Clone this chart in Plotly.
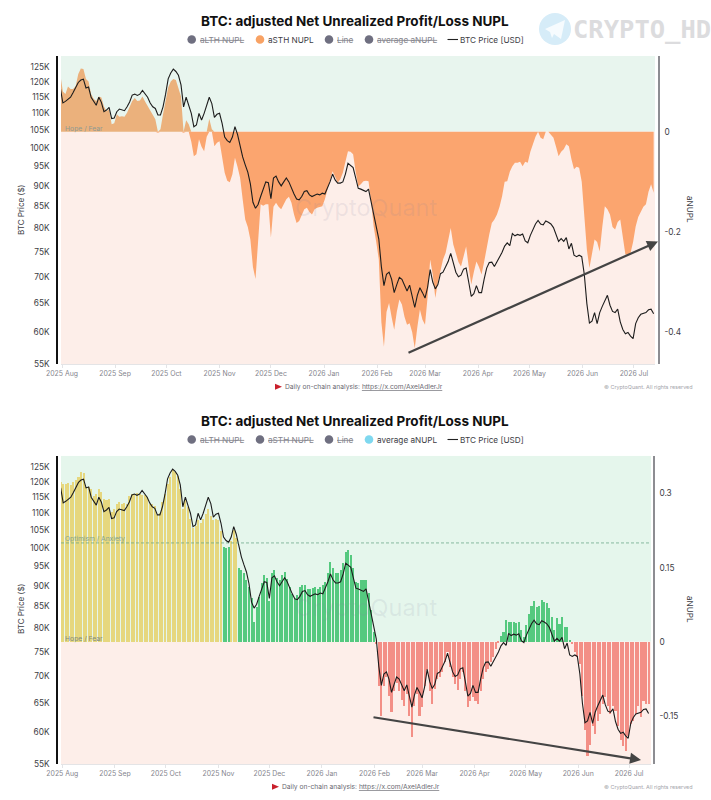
import pandas as pd
import plotly.graph_objects as go

WIDTH, HEIGHT = 711, 800

# One reading every 36 hours across the charted window.
dates = list(pd.date_range("2025-07-31", periods=232, freq="36h"))
month_ticks = list(pd.date_range("2025-08-01", "2026-07-01", freq="MS"))

btc_price_k = [
    118, 113.2, 113.7, 114.5, 115, 116.5, 118, 119.8, 120.6, 120.9, 118, 118.3, 115, 113.5, 112.5, 115, 113.4, 110.5, 111, 111.8,
    108.4, 108.6, 110.5, 111.3, 111, 110.8, 112, 113.5, 115.7, 116, 115.6, 116, 117.2, 116, 115, 113.2, 112, 111.5, 109.5, 109.5,
    112, 116, 121, 123, 124.3, 123.5, 122.2, 119, 112, 115, 112.4, 110, 106, 106.5, 110, 108, 110, 112.5, 115, 113,
    108.8, 109.7, 110, 107, 103, 102, 101.5, 103, 106, 103.8, 100.5, 97.5, 95.4, 93.5, 90.5, 86, 84.6, 85.5, 87.4, 89,
    91, 90.8, 86.9, 92, 92.5, 91, 90, 91, 92, 91, 89.4, 88, 86.8, 86.6, 87.4, 88.6, 88.8, 87.8, 87.4, 87.7,
    88, 87.8, 88.2, 88, 89.4, 91, 93, 91.5, 90.7, 90.7, 91, 93, 95.8, 95.3, 94.7, 92, 89.4, 89.2, 88.8, 88.6,
    89.2, 86, 83, 80.5, 77.7, 72, 68.3, 70.5, 70.9, 69.5, 67, 68.5, 69.9, 69.5, 68.4, 67.3, 68.4, 66, 64.3, 66.5,
    67.9, 67, 66, 68, 71.4, 69, 67.7, 68.5, 70.6, 70.9, 72, 73, 74.7, 72.5, 70.9, 70, 70.3, 71.5, 71.7, 69,
    66.3, 66.8, 68.3, 67, 67, 69.5, 71.7, 72.8, 72.9, 72, 72.9, 74, 74.9, 76.2, 76.9, 76.3, 78.9, 78.4, 78.7, 78.5,
    78.8, 77.3, 76.9, 78.5, 79.7, 81, 81.8, 81, 80.8, 81.7, 81.4, 81, 80.2, 78.5, 77.2, 77.8, 77.2, 78, 75.6, 76.8,
    74.3, 74, 74.3, 74, 70.5, 65, 61.6, 61.9, 63.4, 61.5, 63.4, 64.5, 65.4, 66.5, 64.7, 63.6, 63.4, 64, 61.8, 60.5,
    59.8, 60, 59.4, 59, 61.5, 62.5, 63.1, 63.3, 63.4, 63.9, 64, 63.2,
]

asth_nupl = [
    .115, .08, .075, .09, .085, .085, .091, .115, .126, .125, .105, .10, .075, .065, .061, .07, .068, .05, .041, .045,
    .015, .017, .035, .03, .031, .03, .038, .05, .061, .067, .061, .062, .07, .06, .051, .04, .031, .025, -.002, .005,
    .035, .06, .088, .1, .105, .103, .088, .07, -.002, .023, .015, -.02, -.049, -.045, -.015, -.03, -.039, -.01, .026, .005,
    -.029, -.022, -.019, -.05, -.082, -.098, -.101, -.085, -.052, -.07, -.092, -.135, -.175, -.19, -.215, -.27, -.294, -.22, -.145, -.148,
    -.145, -.145, -.211, -.15, -.142, -.15, -.155, -.145, -.135, -.13, -.142, -.165, -.182, -.178, -.165, -.155, -.152, -.16, -.165, -.155,
    -.152, -.15, -.149, -.135, -.115, -.095, -.079, -.09, -.102, -.095, -.082, -.06, -.039, -.04, -.045, -.08, -.109, -.105, -.099, -.098,
    -.099, -.14, -.189, -.22, -.255, -.38, -.429, -.36, -.342, -.37, -.395, -.36, -.335, -.345, -.369, -.385, -.382, -.4, -.432, -.39,
    -.355, -.375, -.385, -.33, -.255, -.285, -.332, -.30, -.275, -.255, -.242, -.22, -.192, -.225, -.245, -.26, -.269, -.25, -.229, -.27,
    -.305, -.28, -.259, -.27, -.285, -.26, -.229, -.205, -.182, -.175, -.165, -.15, -.129, -.10, -.099, -.08, -.069, -.062, -.062, -.06,
    -.069, -.06, -.062, -.04, -.025, -.01, .001, -.012, -.015, .001, .001, -.006, -.012, -.03, -.049, -.04, -.035, -.025, -.029, -.055,
    -.075, -.07, -.072, -.10, -.162, -.235, -.272, -.24, -.215, -.22, -.239, -.19, -.149, -.155, -.165, -.19, -.195, -.18, -.175, -.21,
    -.245, -.245, -.242, -.22, -.189, -.17, -.159, -.15, -.145, -.12, -.105, -.122,
]

average_anupl = [
    .324, .32, .321, .322, .318, .325, .328, .335, .345, .343, .314, .313, .309, .295, .30, .31, .304, .29, .287, .29,
    .264, .27, .28, .284, .279, .282, .28, .295, .299, .30, .302, .30, .297, .298, .294, .28, .279, .275, .257, .262,
    .284, .30, .321, .335, .348, .345, .336, .31, .27, .288, .274, .25, .23, .235, .247, .24, .25, .26, .27, .255,
    .247, .25, .247, .225, .193, .19, .193, .205, .226, .21, .149, .145, .139, .125, .111, .09, .04, .07, .091, .12,
    .135, .13, .084, .14, .145, .13, .125, .135, .142, .128, .111, .098, .088, .095, .111, .115, .115, .108, .108, .11,
    .111, .108, .111, .115, .122, .14, .162, .15, .139, .14, .145, .16, .182, .186, .176, .15, .122, .12, .125, .126,
    .125, .10, .064, .02, -.005, -.09, -.149, -.09, -.071, -.11, -.142, -.10, -.084, -.10, -.118, -.13, -.105, -.15, -.193, -.13,
    -.105, -.15, -.132, -.09, -.057, -.10, -.125, -.095, -.074, -.07, -.061, -.04, -.02, -.05, -.071, -.085, -.098, -.075, -.061, -.10,
    -.132, -.12, -.111, -.12, -.125, -.10, -.074, -.06, -.054, -.04, -.03, -.015, -.003, .012, .02, .045, .041, .04, .041, .038,
    .041, .025, .01, .035, .057, .072, .084, .07, .072, .085, .081, .078, .068, .05, .024, .048, .037, .05, .03, .03,
    .005, -.005, -.02, -.03, -.044, -.11, -.179, -.23, -.209, -.17, -.186, -.16, -.145, -.125, -.111, -.13, -.145, -.13, -.139, -.17,
    -.199, -.21, -.22, -.19, -.166, -.16, -.145, -.13, -.152, -.12, -.125, -.125,
]

assert len(dates) == len(btc_price_k) == len(asth_nupl) == len(average_anupl)

price_ticks_k = [55, 60, 65, 70, 75, 80, 85, 90, 95, 100, 105, 110, 115, 120, 125]
price_tick_text = [f"{v}K" for v in price_ticks_k]
OPTIMISM_LEVEL = 0.2

FONT = "Inter, 'Liberation Sans', sans-serif"
INK = "#3d3d45"
MUTED = "#85858d"
GREEN_TOP = "#e8f5ee"
GREEN_BOTTOM = "#e5f6ec"
PINK = "#fdeee9"

# Pixel box of the upper plot area; free-standing labels are placed relative to it.
BOX_L, BOX_R, BOX_T, BOX_B = 61, 655, 56, 364


def px(x):
    return x / WIDTH


def py(y):
    return 1 - y / HEIGHT


def dom_x(x):
    return (x - BOX_L) / (BOX_R - BOX_L)


def dom_y(y):
    return (BOX_B - y) / (BOX_B - BOX_T)


def bar_colour(v):
    if v >= OPTIMISM_LEVEL:
        return "#e6d77e"
    if v >= 0:
        return "#55c97f"
    return "#f38f86"


fig = go.Figure()

# Upper panel: short-term holder NUPL as an area either side of zero.
fig.add_trace(go.Scatter(
    x=dates, y=[max(v, 0) for v in asth_nupl], xaxis="x", yaxis="y2",
    mode="lines", line=dict(width=0, shape="linear"), fill="tozeroy",
    fillcolor="#ebb17c", hoverinfo="skip", showlegend=False,
))
fig.add_trace(go.Scatter(
    x=dates, y=[min(v, 0) for v in asth_nupl], xaxis="x", yaxis="y2",
    mode="lines", line=dict(width=0), fill="tozeroy",
    fillcolor="#fba56f", hoverinfo="skip", showlegend=False,
))
fig.add_trace(go.Scatter(
    x=dates, y=btc_price_k, xaxis="x", yaxis="y", mode="lines",
    line=dict(color="#1c1c1c", width=1.1), showlegend=False,
))

# Lower panel: average NUPL bars coloured by sentiment zone.
fig.add_trace(go.Bar(
    x=dates, y=average_anupl, xaxis="x2", yaxis="y4",
    marker=dict(color=[bar_colour(v) for v in average_anupl], line=dict(width=0)),
    width=1.22 * 86400000, showlegend=False,
))
fig.add_trace(go.Scatter(
    x=dates, y=btc_price_k, xaxis="x2", yaxis="y3", mode="lines",
    line=dict(color="#1c1c1c", width=1.1), showlegend=False,
))

date_axis = dict(
    type="date", tickvals=month_ticks, tickformat="%Y %b", showgrid=False,
    zeroline=False, showline=True, linecolor="#e4e4e6", linewidth=1, automargin=False,
    ticks="outside", ticklen=3, tickcolor="#e4e4e6",
    tickfont=dict(family=FONT, size=6.9, color=MUTED),
)
price_axis = dict(
    type="log", tickvals=price_ticks_k, ticktext=price_tick_text, showgrid=False,
    zeroline=False, showline=True, linecolor="#111111", linewidth=1.5, automargin=False,
    ticks="outside", ticklen=5, tickcolor="rgba(0,0,0,0)", anchor="free",
    position=px(57), side="left", tickfont=dict(family=FONT, size=8.3, color=INK),
)
nupl_axis = dict(
    showgrid=False, zeroline=False, showline=True, linecolor="#8d8d92", automargin=False,
    linewidth=1.5, side="right", anchor="free", ticks="outside", ticklen=3,
    tickcolor="rgba(0,0,0,0)", tickfont=dict(family=FONT, size=8.3, color=INK),
)

fig.update_layout(
    width=WIDTH, height=HEIGHT, autosize=False, paper_bgcolor="white",
    plot_bgcolor="rgba(0,0,0,0)", margin=dict(l=0, r=0, t=0, b=0), showlegend=False,
    bargap=0,
    xaxis=dict(date_axis, domain=[px(BOX_L), px(BOX_R)], anchor="y",
               range=["2025-07-31 10:00", "2026-07-13 07:00"]),
    yaxis=dict(price_axis, domain=[py(BOX_B), py(BOX_T)], range=[1.74036, 2.11025],
               overlaying="y2"),
    yaxis2=dict(nupl_axis, domain=[py(BOX_B), py(BOX_T)], range=[-0.4635, 0.151],
                position=px(659), tickvals=[0, -0.2, -0.4], ticktext=["0", "-0.2", "-0.4"]),
    xaxis2=dict(date_axis, domain=[px(61), px(651)], anchor="y3",
                range=["2025-07-31 05:00", "2026-07-13 22:00"]),
    yaxis3=dict(price_axis, domain=[py(764), py(455.7)], range=[1.73991, 2.1106],
                overlaying="y4"),
    yaxis4=dict(nupl_axis, domain=[py(764), py(455.7)], range=[-0.2478, 0.3767],
                position=px(654), tickvals=[0.3, 0.15, 0, -0.15],
                ticktext=["0.3", "0.15", "0", "-0.15"]),
)

shapes = [
    dict(type="rect", xref="x domain", x0=0, x1=1, yref="y2", y0=0, y1=0.151,
         fillcolor=GREEN_TOP, line_width=0, layer="below"),
    dict(type="rect", xref="x domain", x0=0, x1=1, yref="y2", y0=-0.4635, y1=0,
         fillcolor=PINK, line_width=0, layer="below"),
    dict(type="rect", xref="x2 domain", x0=0, x1=1, yref="y4", y0=0, y1=0.3767,
         fillcolor=GREEN_BOTTOM, line_width=0, layer="below"),
    dict(type="rect", xref="x2 domain", x0=0, x1=1, yref="y4", y0=-0.2478, y1=0,
         fillcolor=PINK, line_width=0, layer="below"),
    dict(type="line", xref="x2 domain", x0=0, x1=1, yref="y4", y0=OPTIMISM_LEVEL,
         y1=OPTIMISM_LEVEL, line=dict(color="#5f9f7f", width=0.7, dash="3px,2px")),
    # Telegram badge
    dict(type="circle", xref="paper", yref="paper", x0=px(539), x1=px(571),
         y0=py(45), y1=py(13), fillcolor="#d6ecf8", line_width=0),
    dict(type="path", xref="paper", yref="paper", line_width=0, fillcolor="#f6fbfe",
         path=f"M {px(545)} {py(29)} L {px(565)} {py(20)} L {px(561)} {py(39)} "
              f"L {px(554)} {py(34)} L {px(552)} {py(38)} L {px(550)} {py(32)} Z"),
]

annotations = []


def label(x, y, text, size, color=INK, anchor="left", **extra):
    # Annotation boxes carry about 2px of padding; take it back so x is the ink edge.
    nudge = {"left": -2, "right": 2, "center": 0}[anchor]
    annotations.append(dict(
        xref="x domain", yref="y domain", x=dom_x(x + nudge), y=dom_y(y), text=text,
        showarrow=False, xanchor=anchor, yanchor="middle",
        font=dict(family=FONT, size=size, color=color), **extra,
    ))


def legend(y_centre, active):
    entries = [
        (191.7, 200, "aLTH NUPL", "#6f6f80"),
        (260, 267.7, "aSTH NUPL", "#f8a264"),
        (329, 337, "Line", "#6f6f80"),
        (369, 376.7, "average aNUPL", "#7fd8ef"),
    ]
    for cx, tx, name, colour in entries:
        on = name == active
        shapes.append(dict(
            type="circle", xref="paper", yref="paper", x0=px(cx - 4.3), x1=px(cx + 4.3),
            y0=py(y_centre + 4.3), y1=py(y_centre - 4.3),
            fillcolor=colour if on else "#6f6f80", line_width=0,
        ))
        label(tx, y_centre, name if on else f"<s>{name}</s>", 8.2, INK if on else MUTED)
    shapes.append(dict(type="line", xref="paper", yref="paper", x0=px(447.5), x1=px(458),
                       y0=py(y_centre), y1=py(y_centre), line=dict(color="#222222", width=1.1)))
    label(460, y_centre, "BTC Price [USD]", 8.2, INK)


def footer(flag_x, text_x, y):
    shapes.append(dict(
        type="path", xref="paper", yref="paper", line_width=0, fillcolor="#c9202c",
        path=f"M {px(flag_x)} {py(y - 3)} L {px(flag_x + 7)} {py(y)} "
             f"L {px(flag_x)} {py(y + 3)} Z",
    ))
    label(text_x, y, 'Daily on-chain analysis: <u>https://x.com/AxelAdlerJr</u>', 6.7, "#6a6a72")
    label(693, y + 1, "© CryptoQuant. All rights reserved", 5.4, "#a5a5ab", anchor="right")


def trend_arrow(x0, y0, x1, y1):
    annotations.append(dict(
        xref="x domain", yref="y domain", axref="pixel", ayref="pixel",
        x=dom_x(x1), y=dom_y(y1), ax=x0 - x1, ay=y0 - y1, text="", showarrow=True,
        arrowhead=2, arrowsize=1, arrowwidth=2.2, arrowcolor="#444444",
    ))


TITLE = "<b>BTC: adjusted Net Unrealized Profit/Loss NUPL</b>"
for panel_top, active in ((0, "aSTH NUPL"), (400, "average aNUPL")):
    label(355.4, panel_top + 20.5, TITLE, 13.5, "#111111", anchor="center")
    legend(panel_top + 39.5, active)

label(21, 210, "BTC Price ($)", 8, INK, anchor="center", textangle=-90)
label(21, 609, "BTC Price ($)", 8, INK, anchor="center", textangle=-90)
label(690, 210, "aNUPL", 8.2, INK, anchor="center", textangle=90)
label(690, 610, "aNUPL", 8.2, INK, anchor="center", textangle=90)

label(64.5, 128.5, "Hope / Fear", 6.8, "#8f9a92")
label(64.5, 638.5, "Hope / Fear", 6.8, "#7f8a82")
label(64.5, 539, "Optimism / Anxiety", 6.7, "#7fa392")

footer(275, 285, 386.7)
footer(272, 281.7, 786.7)

trend_arrow(407, 353.5, 658, 241.5)
trend_arrow(372, 717, 641, 760)

label(573, 29, "<b>CRYPTO_HD</b>", 25.5, "#dcdcde")
annotations[-1]["font"]["family"] = "'DejaVu Sans Mono', monospace"
label(366, 207, "CryptoQuant", 23.5, "rgba(130,130,160,0.13)", anchor="center")
label(366, 607, "CryptoQuant", 23.5, "rgba(130,130,160,0.13)", anchor="center")

fig.update_layout(shapes=shapes, annotations=annotations)
fig.write_html("out.html", config=dict(displayModeBar=False))
